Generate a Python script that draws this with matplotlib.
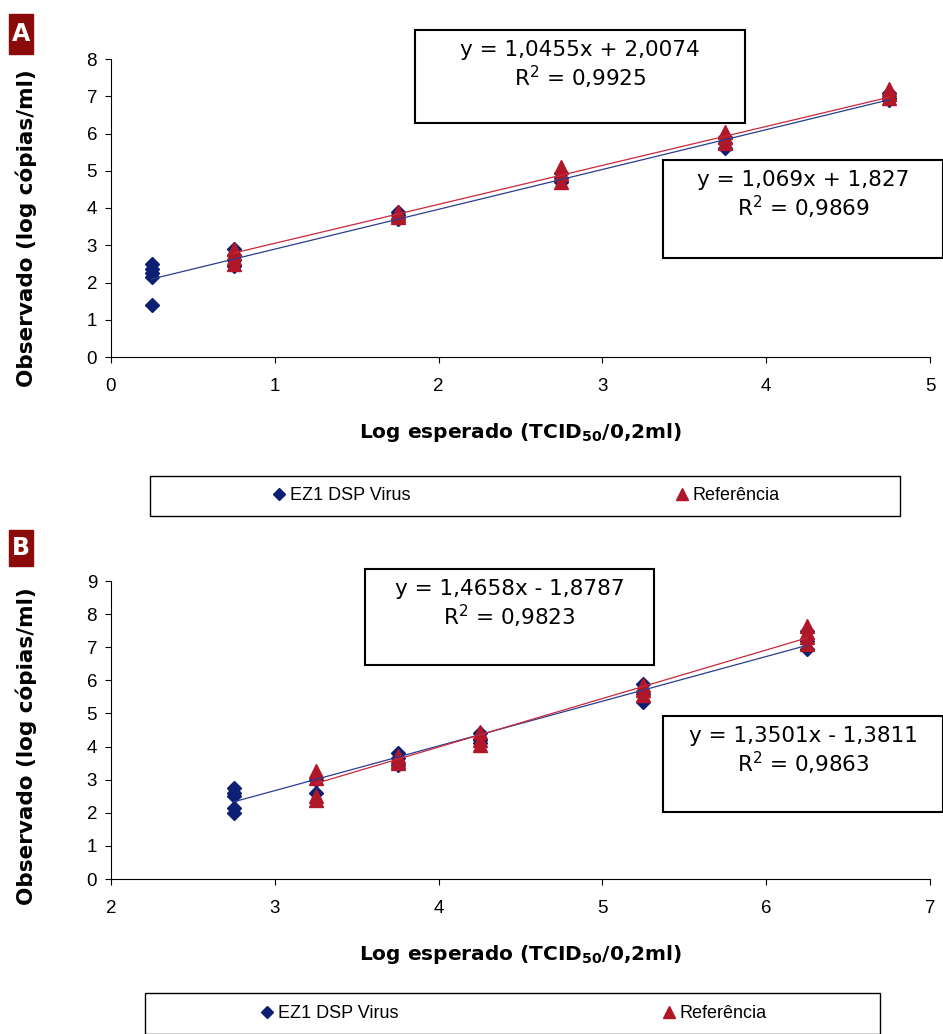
#!/usr/bin/env python3

import numpy as np
import matplotlib.pyplot as plt
from matplotlib.patches import Rectangle
from matplotlib.lines import Line2D

# panel A data
a_x = [0.25, 0.75, 1.75, 2.75, 3.75, 4.75]
a_ez1 = [[2.5, 2.35, 2.25, 2.15, 1.4],
         [2.9, 2.75, 2.6, 2.45],
         [3.9, 3.8, 3.7],
         [4.95, 4.8, 4.7],
         [5.9, 5.75, 5.6],
         [7.1, 6.95, 6.9]]
a_ref = [[],
         [2.9, 2.8, 2.65, 2.5],
         [3.9, 3.8, 3.75],
         [5.1, 4.9, 4.7],
         [6.05, 5.9, 5.75],
         [7.2, 7.05, 6.95]]
a_fit_ez1 = (1.069, 1.827)
a_fit_ref = (1.0455, 2.0074)
a_eq_ez1 = ["y = 1,069x + 1,827", "R$^2$ = 0,9869"]
a_eq_ref = ["y = 1,0455x + 2,0074", "R$^2$ = 0,9925"]

# panel B data
b_x = [2.75, 3.25, 3.75, 4.25, 5.25, 6.25]
b_ez1 = [[2.75, 2.6, 2.5, 2.15, 2.0],
         [3.0, 2.6],
         [3.8, 3.65, 3.45],
         [4.4, 4.2, 4.1],
         [5.9, 5.6, 5.35],
         [7.5, 7.2, 6.95]]
b_ref = [[],
         [3.25, 3.05, 2.5, 2.4],
         [3.7, 3.55, 3.5],
         [4.45, 4.2, 4.05],
         [5.85, 5.7, 5.55],
         [7.65, 7.45, 7.3, 7.1]]
b_fit_ez1 = (1.3501, -1.3811)
b_fit_ref = (1.4658, -1.8787)
b_eq_ez1 = ["y = 1,3501x - 1,3811", "R$^2$ = 0,9863"]
b_eq_ref = ["y = 1,4658x - 1,8787", "R$^2$ = 0,9823"]

labels = ["EZ1 DSP Virus", "Referência"]
blue = "#0d1f73"
red = "#b0182a"
blue_line = "#2a3d8f"
red_line = "#c8283c"

W, H = 943, 1034


def fx(p):
    return p / W


def fy(p):
    return 1 - p / H


def panel(fig, rect, xs, ez1, ref, fit_ez1, fit_ref, xlim, ylim, letter, lbox, ylab_y):
    ax = fig.add_axes(rect)
    for x, ys in zip(xs, ez1):
        ax.plot([x] * len(ys), ys, ls="none", marker="D", ms=7,
                color=blue, zorder=3)
    for x, ys in zip(xs, ref):
        if ys:
            ax.plot([x] * len(ys), ys, ls="none", marker="^", ms=9.5,
                    color=red, zorder=4)
    xe = np.array([min(xs), max(xs)])
    ax.plot(xe, fit_ez1[0] * xe + fit_ez1[1], color=blue_line, lw=0.9, zorder=5)
    xr = np.array([xs[1], max(xs)])
    ax.plot(xr, fit_ref[0] * xr + fit_ref[1], color=red_line, lw=0.9, zorder=5)
    ax.set_xlim(*xlim)
    ax.set_ylim(*ylim)
    ax.set_xticks(range(xlim[0], xlim[1] + 1))
    ax.set_yticks(range(ylim[0], ylim[1] + 1))
    for s in ["top", "right"]:
        ax.spines[s].set_visible(False)
    ax.tick_params(labelsize=13.5, length=4, direction="out")
    ax.tick_params(axis="x", pad=11)
    ax.tick_params(axis="y", pad=6)
    for t in ax.get_xticklabels() + ax.get_yticklabels():
        t.set_family("Liberation Sans")
    ax.set_ylabel("Observado (log cópias/ml)", fontsize=15.5, fontweight="bold")
    ax.set_xlabel(r"Log esperado (TCID$_{\mathbf{50}}$/0,2ml)", fontsize=14.5,
                  fontweight="bold")
    ax.yaxis.set_label_coords(-0.090, ylab_y)
    ax.xaxis.set_label_coords(0.5, -0.215)
    # panel letter
    x0, y0, w, h = lbox
    fig.patches.append(Rectangle((fx(x0), fy(y0 + h)), w / W, h / H,
                                 transform=fig.transFigure, color="#8b0a0a"))
    fig.text(fx(x0 + w / 2), fy(y0 + h / 2), letter, color="white", fontsize=17,
             fontweight="bold", ha="center", va="center")
    return ax


def eqbox(fig, box, lines):
    x0, y0, x1, y1 = box
    fig.patches.append(Rectangle((fx(x0), fy(y1)), (x1 - x0) / W, (y1 - y0) / H,
                                 transform=fig.transFigure, fill=False,
                                 edgecolor="black", lw=1.5, zorder=10))
    fig.text(fx((x0 + x1) / 2), fy(y0 + 10), "\n".join(lines), fontsize=15.5,
             ha="center", va="top", linespacing=1.15, zorder=11)


def legend(fig, box):
    x0, y0, x1, y1 = box
    fig.patches.append(Rectangle((fx(x0), fy(y1)), (x1 - x0) / W, (y1 - y0) / H,
                                 transform=fig.transFigure, fill=False,
                                 edgecolor="black", lw=1.0))
    handles = [Line2D([], [], ls="none", marker="D", ms=6, color=blue),
               Line2D([], [], ls="none", marker="^", ms=8, color=red)]
    fig.legend(handles, labels, loc="center", ncol=2, frameon=False,
               bbox_to_anchor=(fx((x0 + x1) / 2), fy((y0 + y1) / 2)),
               prop={"family": "Liberation Sans", "size": 13},
               handletextpad=0.1, handlelength=1.0, columnspacing=14.5)


fig = plt.figure(figsize=(W / 100, H / 100), dpi=100)

panel(fig, [fx(111), fy(357), (930 - 111) / W, (357 - 59) / H],
      a_x, a_ez1, a_ref, a_fit_ez1, a_fit_ref, (0, 5), (0, 8), "A", (9, 14, 24, 40), 0.433)
eqbox(fig, (415, 30, 745, 123), a_eq_ref)
eqbox(fig, (663, 160, 943, 258), a_eq_ez1)
legend(fig, (150, 476, 900, 516))

panel(fig, [fx(111), fy(879), (930 - 111) / W, (879 - 581) / H],
      b_x, b_ez1, b_ref, b_fit_ez1, b_fit_ref, (2, 7), (0, 9), "B", (9, 530, 24, 36), 0.446)
eqbox(fig, (365, 569, 654, 665), b_eq_ref)
eqbox(fig, (663, 716, 943, 812), b_eq_ez1)
legend(fig, (145, 993, 880, 1034))

fig.savefig("out.png", dpi=100)
